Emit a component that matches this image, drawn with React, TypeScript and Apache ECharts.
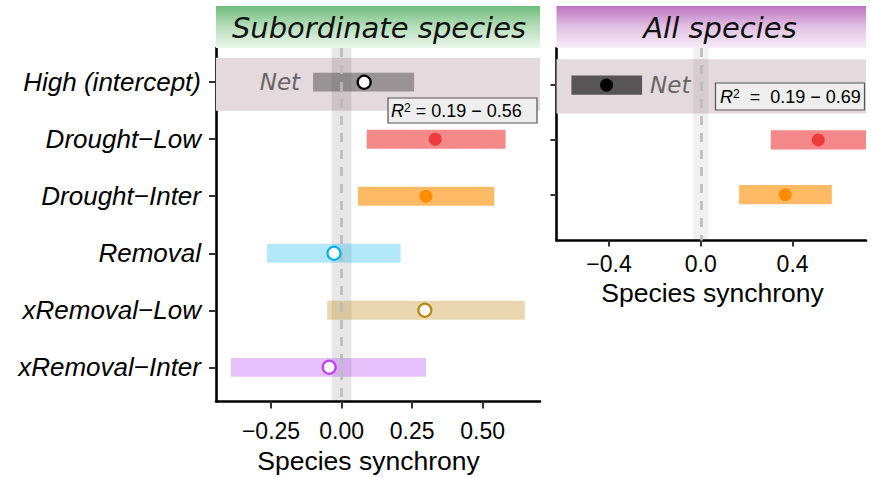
import React, { useEffect, useRef } from "react";
import * as echarts from "echarts";

// ---------- data ----------
const leftCategories = ["High (intercept)", "Drought−Low", "Drought−Inter", "Removal", "xRemoval−Low", "xRemoval−Inter"];
const leftEstimate = [0.08, 0.332, 0.299, -0.027, 0.295, -0.044];
const leftLower = [-0.101, 0.089, 0.058, -0.264, -0.051, -0.392];
const leftUpper = [0.257, 0.581, 0.541, 0.209, 0.649, 0.299];

const rightCategories = ["High (intercept)", "Drought−Low", "Drought−Inter"];
const rightEstimate = [-0.411, 0.512, 0.368];
const rightLower = [-0.564, 0.305, 0.167];
const rightUpper = [-0.256, 0.72, 0.571];

const leftTicks = [-0.25, 0, 0.25, 0.5];
const rightTicks = [-0.4, 0, 0.4];
const leftR2 = "0.19 − 0.56";
const rightR2 = "0.19 − 0.69";
const panelTitles = ["Subordinate species", "All species"];
const axisTitle = "Species synchrony";
const netLabel = "Net";

// ---------- styles ----------
const leftBarColors = [
  "rgba(77,77,77,0.5)",
  "rgba(238,59,59,0.6)",
  "rgba(255,140,0,0.6)",
  "rgba(0,178,238,0.3)",
  "rgba(184,134,11,0.33)",
  "rgba(160,32,240,0.28)",
];
const leftPointStyles = [
  { color: "#ffffff", borderColor: "#000000", borderWidth: 2.2 },
  { color: "#ee3b3b", borderColor: "#ee3b3b", borderWidth: 0 },
  { color: "#ff8c00", borderColor: "#ff8c00", borderWidth: 0 },
  { color: "#ffffff", borderColor: "#00b2ee", borderWidth: 2.2 },
  { color: "#ffffff", borderColor: "#b8860b", borderWidth: 2.2 },
  { color: "#ffffff", borderColor: "#bf3eff", borderWidth: 2.2 },
];
const rightBarColors = ["rgba(51,51,51,0.8)", "rgba(238,59,59,0.6)", "rgba(255,140,0,0.6)"];
const rightPointStyles = [
  { color: "#000000", borderColor: "#000000", borderWidth: 0 },
  { color: "#ee3b3b", borderColor: "#ee3b3b", borderWidth: 0 },
  { color: "#ff8c00", borderColor: "#ff8c00", borderWidth: 0 },
];

const SANS = "'Liberation Sans', Arial, sans-serif";
const VERD = "'DejaVu Sans', Verdana, sans-serif";

const fmt = (d: number) => (v: number) => (v < 0 ? "−" : "") + Math.abs(v).toFixed(d);

function makeBars(lower: number[], upper: number[], colors: string[], barH: number, netSide: "left" | "right", gridIdx: number) {
  return {
    type: "custom",
    xAxisIndex: gridIdx,
    yAxisIndex: gridIdx,
    z: 4,
    silent: true,
    data: lower.map((lo, i) => [lo, upper[i], i + 1]),
    encode: { x: [0, 1], y: 2 },
    renderItem: (params: any, api: any) => {
      const lo = api.value(0);
      const hi = api.value(1);
      const y = api.value(2);
      const idx = params.dataIndex;
      const p1 = api.coord([lo, y]);
      const p2 = api.coord([hi, y]);
      const h = Math.abs(api.size([0, barH])[1]);
      const cs = params.coordSys;
      const rect = echarts.graphic.clipRectByRect(
        { x: p1[0], y: p1[1] - h / 2, width: p2[0] - p1[0], height: h },
        { x: cs.x, y: cs.y, width: cs.width, height: cs.height }
      );
      const children: any[] = [];
      if (rect) {
        children.push({ type: "rect", shape: rect, style: { fill: colors[idx] } });
      }
      if (idx === 0) {
        children.push({
          type: "text",
          x: netSide === "left" ? p1[0] - 13 : p2[0] + 8,
          y: p1[1],
          style: {
            text: netLabel,
            fontSize: 23,
            fontStyle: "italic",
            fontFamily: VERD,
            fill: "#666666",
            align: netSide === "left" ? "right" : "left",
            verticalAlign: "middle",
          },
        });
      }
      return { type: "group", children };
    },
  };
}

function makePoints(est: number[], styles: any[], gridIdx: number) {
  return {
    type: "scatter",
    xAxisIndex: gridIdx,
    yAxisIndex: gridIdx,
    z: 5,
    silent: true,
    symbol: "circle",
    symbolSize: 13,
    data: est.map((v, i) => ({ value: [v, i + 1], itemStyle: { ...styles[i], opacity: 1 } })),
  };
}

function bgSeries(gridIdx: number, bandLo: number, bandHi: number, zeroHalf: number, zeroColor: string) {
  return [
    {
      type: "scatter",
      xAxisIndex: gridIdx,
      yAxisIndex: gridIdx,
      data: [],
      z: 1,
      silent: true,
      markArea: {
        silent: true,
        itemStyle: { color: "#e4d9dd" },
        data: [[{ yAxis: bandLo }, { yAxis: bandHi }]],
      },
    },
    {
      type: "scatter",
      xAxisIndex: gridIdx,
      yAxisIndex: gridIdx,
      data: [],
      z: 2,
      silent: true,
      markArea: {
        silent: true,
        itemStyle: { color: zeroColor },
        data: [[{ xAxis: -zeroHalf }, { xAxis: zeroHalf }]],
      },
    },
    {
      type: "scatter",
      xAxisIndex: gridIdx,
      yAxisIndex: gridIdx,
      data: [],
      z: 3,
      silent: true,
      markLine: {
        silent: true,
        symbol: ["none", "none"],
        label: { show: false },
        lineStyle: { color: "#bbbbbb", width: 2.6, type: [9, 8] },
        data: [{ xAxis: 0 }],
      },
    },
  ];
}

const axisLineStyle = { show: true, onZero: false, lineStyle: { color: "#000", width: 2.6 } };

export default function App() {
  const ref = useRef<HTMLDivElement>(null);
  useEffect(() => {
    if (!ref.current) return;
    const chart = echarts.init(ref.current, null, { renderer: "svg" });
    const leftY = [1, 2, 3, 4, 5, 6];
    const rightY = [1, 2, 3];
    const r2Rich = {
      r: { fontSize: 18, fontStyle: "italic", fontFamily: SANS, fill: "#000" },
      s: { fontSize: 12, fontFamily: SANS, fill: "#000", verticalAlign: "top" },
      t: { fontSize: 18, fontFamily: SANS, fill: "#000" },
    };
    const option: any = {
      animation: false,
      backgroundColor: "#ffffff",
      grid: [
        { left: 216, top: 48, width: 324, height: 353.5 },
        { left: 556.5, top: 48, width: 309.5, height: 192.5 },
      ],
      xAxis: [
        {
          type: "value",
          gridIndex: 0,
          min: -0.445,
          max: 0.703,
          axisLine: axisLineStyle,
          axisTick: { show: true, length: 7, lineStyle: { color: "#333", width: 2 }, customValues: leftTicks },
          axisLabel: { customValues: leftTicks, formatter: fmt(2), fontSize: 23, color: "#000", fontFamily: SANS, margin: 18 },
          splitLine: { show: false },
        },
        {
          type: "value",
          gridIndex: 1,
          min: -0.629,
          max: 0.72,
          axisLine: axisLineStyle,
          axisTick: { show: true, length: 6, lineStyle: { color: "#333", width: 2 }, customValues: rightTicks },
          axisLabel: { customValues: rightTicks, formatter: fmt(1), fontSize: 23, color: "#000", fontFamily: SANS, margin: 12 },
          splitLine: { show: false },
        },
      ],
      yAxis: [
        {
          type: "value",
          gridIndex: 0,
          inverse: true,
          min: 0.4,
          max: 6.6,
          axisLine: axisLineStyle,
          axisTick: { show: true, length: 7, lineStyle: { color: "#333", width: 2 }, customValues: leftY },
          axisLabel: {
            customValues: leftY,
            formatter: (v: number) => leftCategories[Math.round(v) - 1] ?? "",
            fontSize: 26,
            fontStyle: "italic",
            fontFamily: SANS,
            color: "#000",
            margin: 15,
          },
          splitLine: { show: false },
        },
        {
          type: "value",
          gridIndex: 1,
          inverse: true,
          min: 0.323,
          max: 3.836,
          axisLine: axisLineStyle,
          axisTick: { show: true, length: 6, lineStyle: { color: "#333", width: 2 }, customValues: rightY },
          axisLabel: {
            show: false,
            customValues: rightY,
            formatter: (v: number) => rightCategories[Math.round(v) - 1] ?? "",
          },
          splitLine: { show: false },
        },
      ],
      series: [
        ...bgSeries(0, 0.57, 1.5, 0.035, "rgba(0,0,0,0.095)"),
        ...bgSeries(1, 0.53, 1.52, 0.033, "rgba(0,0,0,0.06)"),
        makeBars(leftLower, leftUpper, leftBarColors, 0.33, "left", 0),
        makeBars(rightLower, rightUpper, rightBarColors, 0.35, "right", 1),
        makePoints(leftEstimate, leftPointStyles, 0),
        makePoints(rightEstimate, rightPointStyles, 1),
      ],
      graphic: [
        {
          type: "rect",
          z: 10,
          shape: { x: 216, y: 6, width: 324, height: 42 },
          style: {
            fill: new echarts.graphic.LinearGradient(0, 0, 0, 1, [
              { offset: 0, color: "#6fbd7b" },
              { offset: 0.5, color: "#b8dfbc" },
              { offset: 1, color: "#eaf6eb" },
            ]),
          },
        },
        {
          type: "text",
          z: 11,
          x: 379,
          y: 28,
          style: {
            text: panelTitles[0],
            fontSize: 29,
            fontStyle: "italic",
            fontFamily: VERD,
            fill: "#111",
            align: "center",
            verticalAlign: "middle",
          },
        },
        {
          type: "rect",
          z: 10,
          shape: { x: 556.5, y: 6, width: 309.5, height: 42 },
          style: {
            fill: new echarts.graphic.LinearGradient(0, 0, 0, 1, [
              { offset: 0, color: "#bd74c2" },
              { offset: 0.5, color: "#e2c2e4" },
              { offset: 1, color: "#f6ecf6" },
            ]),
          },
        },
        {
          type: "text",
          z: 11,
          x: 720,
          y: 28,
          style: {
            text: panelTitles[1],
            fontSize: 29,
            fontStyle: "italic",
            fontFamily: VERD,
            fill: "#111",
            align: "center",
            verticalAlign: "middle",
          },
        },
        {
          type: "text",
          x: 368.5,
          y: 461,
          style: { text: axisTitle, fontSize: 26.5, fontFamily: SANS, fill: "#000", align: "center", verticalAlign: "middle" },
        },
        {
          type: "text",
          x: 712.5,
          y: 293,
          style: { text: axisTitle, fontSize: 26.5, fontFamily: SANS, fill: "#000", align: "center", verticalAlign: "middle" },
        },
        {
          type: "rect",
          z: 20,
          shape: { x: 388, y: 98, width: 149, height: 25 },
          style: { fill: "#eeeeee", stroke: "#555555", lineWidth: 1.2 },
        },
        {
          type: "text",
          z: 21,
          x: 391,
          y: 111,
          style: {
            text: "{r|R}{s|2}{t| = " + leftR2 + "}",
            verticalAlign: "middle",
            align: "left",
            rich: r2Rich,
          },
        },
        {
          type: "rect",
          z: 20,
          shape: { x: 715.5, y: 83, width: 149, height: 27 },
          style: { fill: "#eeeeee", stroke: "#555555", lineWidth: 1.2 },
        },
        {
          type: "text",
          z: 21,
          x: 720,
          y: 97,
          style: {
            text: "{r|R}{s|2}{t|  =  " + rightR2 + "}",
            verticalAlign: "middle",
            align: "left",
            rich: r2Rich,
          },
        },
      ],
    };
    chart.setOption(option);
    return () => chart.dispose();
  }, []);
  return (
    <div
      ref={ref}
      style={{ position: "fixed", left: 0, top: 0, width: 871, height: 478, background: "#fff" }}
    />
  );
}
